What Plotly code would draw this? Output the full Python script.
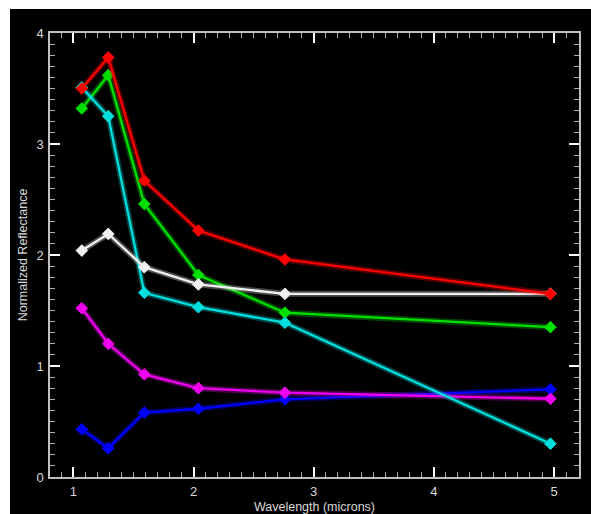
import plotly.graph_objects as go

wavelength = [1.07, 1.29, 1.59, 2.04, 2.76, 4.97]
red = [3.50, 3.78, 2.67, 2.22, 1.96, 1.65]
green = [3.32, 3.62, 2.46, 1.82, 1.48, 1.35]
cyan = [3.51, 3.25, 1.66, 1.53, 1.39, 0.30]
white = [2.04, 2.19, 1.89, 1.735, 1.65, 1.65]
magenta = [1.52, 1.20, 0.925, 0.80, 0.76, 0.705]
blue = [0.43, 0.26, 0.58, 0.615, 0.70, 0.79]

series = [
    ("blue", blue, "#0000ff"),
    ("magenta", magenta, "#ee00ee"),
    ("green", green, "#00e000"),
    ("cyan", cyan, "#00dede"),
    ("white", white, "#f0f0f0"),
    ("red", red, "#ff0000"),
]

fig = go.Figure()
for name, vals, col in series:
    fig.add_trace(go.Scatter(x=wavelength, y=vals, mode="lines", line=dict(color=col, width=6),
                             opacity=0.3, hoverinfo="skip", showlegend=False))
    fig.add_trace(go.Scatter(x=wavelength, y=vals, mode="lines+markers", name=name,
                             line=dict(color=col, width=2.3),
                             marker=dict(symbol="diamond", size=9, color=col,
                                         line=dict(color=col, width=1)),
                             showlegend=False))

W, H = 591, 514
ml, mr, mt, mb = 50, 12, 33, 37
pw, ph = W - ml - mr, H - mt - mb

fig.add_shape(type="rect", xref="paper", yref="paper", layer="below",
              x0=(10 - ml) / pw, x1=(W - ml + 5) / pw,
              y0=-(mb + 5) / ph, y1=(H - mb - 9) / ph,
              fillcolor="black", line=dict(width=0))

fam = "Liberation Sans, Arial, sans-serif"
tickfont = dict(family=fam, size=13, color="#d8d8d8")
common = dict(
    showgrid=False, zeroline=False, showline=True, linecolor="#c0c0c0", linewidth=1.5,
    mirror="allticks", ticks="inside", ticklen=10, tickwidth=1.5, tickcolor="#ffffff",
    tickfont=tickfont, dtick=1, automargin=False,
    minor=dict(ticks="inside", ticklen=5, tickwidth=1.2, tickcolor="#b0b0b0", dtick=0.1, showgrid=False),
)

fig.update_xaxes(range=[0.805, 5.208], tick0=0, ticklabelstandoff=2,
                 title=dict(text="Wavelength (microns)", standoff=5,
                            font=dict(family=fam, size=12.5, color="#d8d8d8")),
                 **common)
fig.update_yaxes(range=[0, 4], tick0=0, ticklabelstandoff=2,
                 title=dict(text="Normalized Reflectance", standoff=6,
                            font=dict(family=fam, size=12.5, color="#d8d8d8")),
                 **common)

fig.update_layout(
    width=W, height=H,
    margin=dict(l=ml, r=mr, t=mt, b=mb, pad=0, autoexpand=False),
    paper_bgcolor="white", plot_bgcolor="black",
)

fig.write_html("out.html", config={"displayModeBar": False},
               post_script="document.body.style.margin='0';document.body.style.overflow='hidden';")
